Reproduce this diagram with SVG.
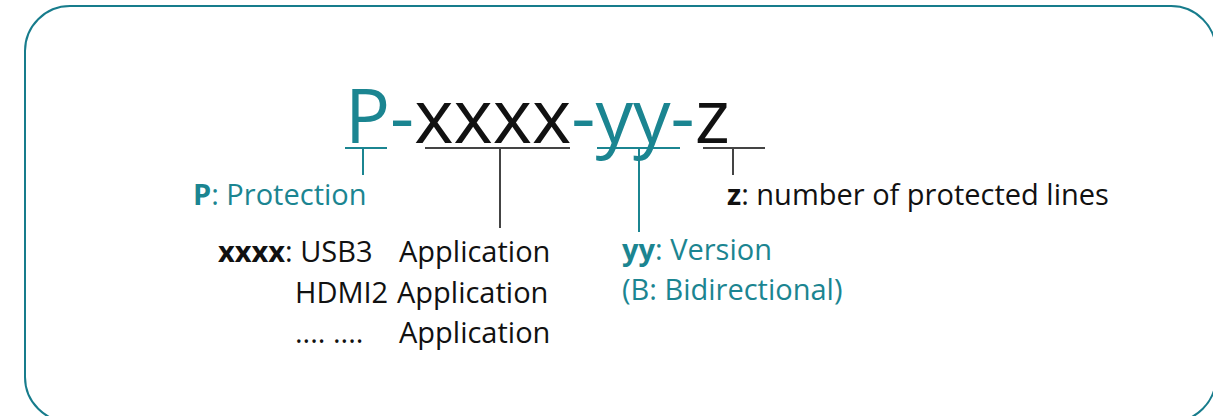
<svg xmlns="http://www.w3.org/2000/svg" width="1213" height="416" viewBox="0 0 1213 416">
  <style>
    .t { font-family: "Open Sans", "Noto Sans", sans-serif; font-size: 29px; }
    .title { font-family: "Open Sans", "Noto Sans", sans-serif; font-size: 75px; }
    .teal { fill: #1b8591; }
    .blk { fill: #111; }
    .b { font-weight: bold; }
    .lt { stroke: #1b8591; stroke-width: 2; fill: none; }
    .lk { stroke: #444; stroke-width: 2; fill: none; }
  </style>
  <rect x="25" y="6" width="1191" height="416" rx="45" ry="45" fill="#fff" stroke="#177c8c" stroke-width="2"/>
  <g id="title">
    <text class="title" x="345" y="143"><tspan class="teal">P-</tspan><tspan class="blk">xxxx</tspan><tspan class="teal">-yy-</tspan><tspan class="blk">z</tspan></text>
  </g>
  <g id="connectors">
    <path class="lt" d="M345 148 H387 M363 148 V175"/>
    <path class="lk" d="M425 148 H570 M500 148 V228"/>
    <path class="lt" d="M597 148 H680 M639 148 V232"/>
    <path class="lk" d="M703 148 H765 M733 148 V175"/>
  </g>
  <g id="node-p">
    <text class="t teal" x="193" y="205"><tspan class="b">P</tspan>: Protection</text>
  </g>
  <g id="node-xxxx">
    <text class="t blk" x="218" y="262"><tspan class="b">xxxx</tspan>: USB3</text>
    <text class="t blk" x="399" y="262">Application</text>
    <text class="t blk" x="295" y="303">HDMI2</text>
    <text class="t blk" x="397" y="303">Application</text>
    <text class="t blk" x="295" y="343">.... ....</text>
    <text class="t blk" x="399" y="343">Application</text>
  </g>
  <g id="node-yy">
    <text class="t teal" x="622" y="260"><tspan class="b">yy</tspan>: Version</text>
    <text class="t teal" x="622" y="300">(B: Bidirectional)</text>
  </g>
  <g id="node-z">
    <text class="t blk" x="727" y="205"><tspan class="b">z</tspan>: number of protected lines</text>
  </g>
</svg>
